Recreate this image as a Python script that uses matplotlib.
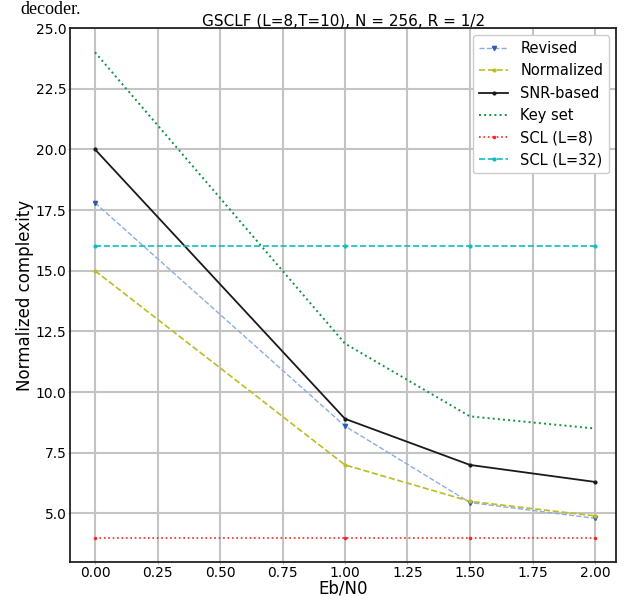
import matplotlib
matplotlib.use('Agg')
import matplotlib.pyplot as plt

# Eb/N0 points
ebn0 = [0.0, 1.0, 1.5, 2.0]

# normalized complexity per decoder
revised = [17.8, 8.6, 5.45, 4.8]
normalized = [15.0, 7.0, 5.5, 4.9]
snr_based = [20.0, 8.9, 7.0, 6.3]
key_set = [24.0, 12.0, 9.0, 8.5]
scl_8 = [4.0, 4.0, 4.0, 4.0]
scl_32 = [16.0, 16.0, 16.0, 16.0]

fig = plt.figure(figsize=(6.25, 5.96), dpi=100)
ax = fig.add_axes([0.112, 0.057, 0.874, 0.896])

# leftover caption text from the page above the figure
fig.text(0.032, 0.999, 'decoder.', family='Liberation Serif', fontsize=13, va='top')

ax.plot(ebn0, revised, '--', color='#8cade0', lw=1, marker='v', ms=3,
        mfc='#2a5cb0', mec='#2a5cb0', label='Revised')
ax.plot(ebn0, normalized, '--', color='#bcbd22', lw=1.2, marker='.', ms=4, label='Normalized')
ax.plot(ebn0, snr_based, '-', color='#1a1a1a', lw=1.3, marker='.', ms=4, label='SNR-based')
ax.plot(ebn0, key_set, ':', color='#139040', lw=1.4, label='Key set')
ax.plot(ebn0, scl_8, ':', color='#ff2020', lw=1.2, marker='.', ms=3, label='SCL (L=8)')
ax.plot(ebn0, scl_32, '--', color='#10bcc0', lw=1.2, marker='.', ms=4, label='SCL (L=32)')

ax.set_xticks([0, 0.25, 0.5, 0.75, 1.0, 1.25, 1.5, 1.75, 2.0])
ax.set_xticklabels(['0.00', '0.25', '0.50', '0.75', '1.00', '1.25', '1.50', '1.75', '2.00'])
ax.set_yticks([5, 7.5, 10, 12.5, 15, 17.5, 20, 22.5, 25])
ax.set_yticklabels(['5.0', '7.5', '10.0', '12.5', '15.0', '17.5', '20.0', '22.5', '25.0'])
ax.set_ylim(3, 25)
ax.set_xlim(-0.1, 2.085)

ax.grid(True, color='#c4c4c4', lw=1.5)
ax.set_axisbelow(True)
ax.tick_params(labelsize=10, color='#b0b0b0', length=1.5, pad=1)
for s in ax.spines.values():
    s.set_color('#222222')
    s.set_linewidth(1.3)

ax.set_title('GSCLF (L=8,T=10), N = 256, R = 1/2', fontsize=11, pad=2)
ax.set_xlabel('Eb/N0', fontsize=12, labelpad=0)
ax.set_ylabel('Normalized complexity', fontsize=12, labelpad=1)
ax.legend(loc='upper right', fontsize=10.5, framealpha=1, edgecolor='#cccccc')

fig.savefig('out.png', dpi=100)
